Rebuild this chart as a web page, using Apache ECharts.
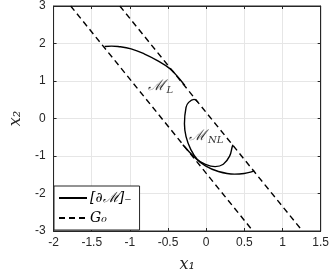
<!DOCTYPE html>
<html><head><meta charset="utf-8">
<script src="https://cdn.jsdelivr.net/npm/echarts@6/dist/echarts.min.js"></script>
<style>html,body{margin:0;padding:0;background:#fff}#c{width:332px;height:278px}</style>
</head><body><div id="c"></div>
<script>
// G0 boundary lines
const g0LineA = [[-1.776, 3], [0.613, -3]];
const g0LineB = [[-1.132, 3], [1.261, -3]];
// boundary curves [dM]-
const curveL = [[-1.331, 1.92], [-1.24, 1.93], [-1.153, 1.92], [-0.984, 1.856], [-0.814, 1.726], [-0.645, 1.552], [-0.476, 1.33], [-0.36, 1.08], [-0.28, 0.88]];
const curveNL = [[-0.107, 0.43], [-0.158, 0.511], [-0.23, 0.43], [-0.264, 0.295], [-0.285, -0.139], [-0.264, -0.485], [-0.201, -0.831], [-0.116, -1.091], [-0.01, -1.221], [0.117, -1.283], [0.224, -1.221], [0.307, -1.005], [0.342, -0.745], [0.351, -0.70]];
const curveLow = [[-0.306, -0.70], [-0.158, -1.023], [-0.01, -1.265], [0.16, -1.413], [0.371, -1.482], [0.498, -1.466], [0.58, -1.43], [0.63, -1.39]];
// region labels
const labelL = [-0.6, 0.86];
const labelNL = [0.0, -0.48];

const chart = echarts.init(document.getElementById('c'));
const axisCol = '#262626';
const tickFont = {color: axisCol, fontFamily: 'Liberation Sans, Arial, sans-serif', fontSize: 12};
const solid = {color: '#000', width: 1.4, type: 'solid'};
const dashed = {color: '#000', width: 1.4, type: [6, 4]};
function lineSeries(name, data, style, smooth) {
  return {type: 'line', name, data, symbol: 'none', smooth: smooth, lineStyle: style, itemStyle: {color: '#000'}, z: 3, silent: true, animation: false};
}
const mathRich = {
  m: {fontFamily: 'DejaVu Serif, serif', fontStyle: 'italic', fontSize: 15, color: '#000'},
  s: {fontFamily: 'DejaVu Serif, serif', fontStyle: 'italic', fontSize: 10, color: '#000', padding: [8, 0, 0, 2]}
};
function textSeries(pos, txt) {
  return {type: 'scatter', data: [pos], symbolSize: 0, silent: true, animation: false,
    label: {show: true, position: 'inside', formatter: txt, rich: mathRich}};
}
const nameStyle = {fontFamily: 'DejaVu Serif, serif', fontStyle: 'italic', fontSize: 16, color: axisCol};
const tickLine = {show: true, inside: true, length: 3, lineStyle: {color: axisCol}};
const gridLine = {show: true, lineStyle: {color: '#e6e6e6'}};
chart.setOption({
  animation: false,
  grid: {left: 47, right: 10, top: 6, bottom: 41, show: true, borderColor: axisCol, borderWidth: 1},
  xAxis: [{type: 'value', min: -2, max: 1.5, interval: 0.5, position: 'bottom',
    name: 'x₁', nameLocation: 'middle', nameGap: 26, nameTextStyle: nameStyle,
    axisLine: {show: true, onZero: false, lineStyle: {color: axisCol}}, axisTick: tickLine,
    axisLabel: Object.assign({margin: 6}, tickFont), splitLine: gridLine},
    {type: 'value', min: -2, max: 1.5, interval: 0.5, position: 'top',
    axisLine: {show: true, onZero: false, lineStyle: {color: axisCol}}, axisTick: tickLine,
    axisLabel: {show: false}, splitLine: {show: false}}],
  yAxis: [{type: 'value', min: -3, max: 3, interval: 1, position: 'left',
    name: 'x₂', nameLocation: 'middle', nameGap: 25, nameTextStyle: nameStyle,
    axisLine: {show: true, onZero: false, lineStyle: {color: axisCol}}, axisTick: tickLine,
    axisLabel: Object.assign({margin: 8}, tickFont), splitLine: gridLine},
    {type: 'value', min: -3, max: 3, interval: 1, position: 'right',
    axisLine: {show: true, onZero: false, lineStyle: {color: axisCol}}, axisTick: tickLine,
    axisLabel: {show: false}, splitLine: {show: false}}],
  legend: {left: 54, top: 186, orient: 'vertical', itemWidth: 28, itemHeight: 10, itemGap: 6,
    padding: [5, 8, 5, 4], borderColor: axisCol, borderWidth: 1, backgroundColor: '#fff',
    itemStyle: {opacity: 0},
    data: ['[∂ℳ]₋', 'G₀'],
    textStyle: {fontFamily: 'DejaVu Serif, serif', fontStyle: 'italic', fontSize: 14, color: '#000', padding: [0, 0, 0, -2]}},
  series: [
    lineSeries('[∂ℳ]₋', curveL, solid, 0.4),
    lineSeries('[∂ℳ]₋', curveNL, solid, 0.4),
    lineSeries('[∂ℳ]₋', curveLow, solid, 0.4),
    lineSeries('G₀', g0LineA, dashed, false),
    lineSeries('G₀', g0LineB, dashed, false),
    textSeries(labelL, '{m|ℳ}{s|L}'),
    textSeries(labelNL, '{m|ℳ}{s|NL}')
  ]
});
</script></body></html>
